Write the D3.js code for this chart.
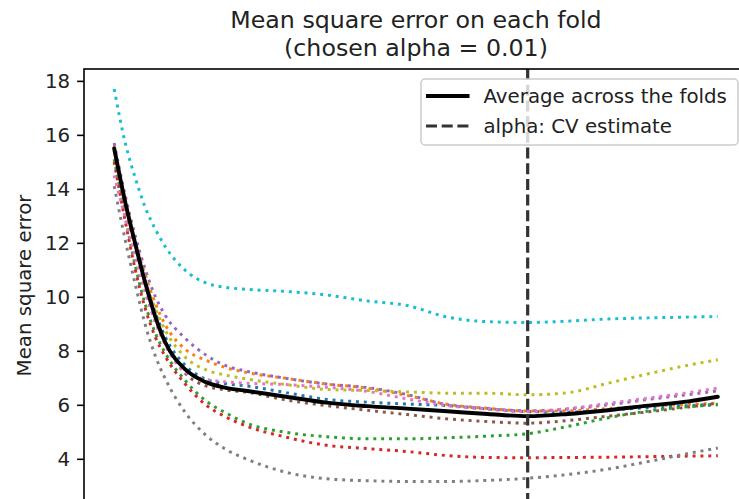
<!DOCTYPE html>
<html>
<head>
<meta charset="utf-8">
<script src="https://cdn.jsdelivr.net/npm/d3@7"></script>
<style>
  html, body { margin: 0; padding: 0; background: #fff; overflow: hidden; }
</style>
</head>
<body>
<div id="chart"></div>
<script>
// -log10(alpha) at the sampled points of the path
const negLogAlphas = [-0.055, 0, 0.05, 0.1, 0.15, 0.2, 0.3, 0.4, 0.5, 0.6, 0.8, 1.0, 1.2, 1.4, 1.6, 1.8, 2.0, 2.2, 2.4, 2.6, 2.8, 2.945];

// mean square error on each of the 10 folds
const fold1 = [15.5, 13.5, 11.95, 10.55, 9.4, 8.5, 7.45, 6.95, 6.78, 6.7, 6.45, 6.2, 6.1, 6.03, 5.97, 5.85, 5.75, 5.73, 5.8, 5.9, 5.97, 6.02];
const fold2 = [15.6, 13.6, 12.05, 10.8, 9.75, 8.95, 8.05, 7.65, 7.38, 7.2, 6.98, 6.77, 6.62, 6.35, 6.02, 5.87, 5.77, 5.78, 5.86, 5.95, 6.02, 6.06];
const fold3 = [15.1, 12.95, 11.15, 9.7, 8.65, 7.9, 6.88, 6.15, 5.7, 5.33, 4.98, 4.82, 4.74, 4.74, 4.78, 4.84, 4.93, 5.2, 5.52, 5.77, 5.93, 6.0];
const fold4 = [15.0, 12.8, 11.0, 9.55, 8.5, 7.78, 6.75, 6.0, 5.55, 5.22, 4.8, 4.5, 4.38, 4.27, 4.12, 4.05, 4.04, 4.05, 4.06, 4.08, 4.1, 4.11];
const fold5 = [15.7, 13.75, 12.25, 11.0, 10.0, 9.3, 8.45, 7.85, 7.45, 7.25, 6.98, 6.77, 6.64, 6.38, 6.0, 5.86, 5.78, 5.84, 6.0, 6.2, 6.38, 6.52];
const fold6 = [15.4, 13.3, 11.7, 10.3, 9.15, 8.25, 7.15, 6.7, 6.55, 6.47, 6.18, 5.97, 5.8, 5.64, 5.48, 5.38, 5.32, 5.42, 5.58, 5.74, 5.92, 6.06];
const fold7 = [14.5, 12.9, 11.45, 10.15, 9.05, 8.2, 7.2, 6.95, 6.85, 6.8, 6.75, 6.65, 6.5, 6.22, 5.97, 5.84, 5.74, 5.86, 6.05, 6.25, 6.45, 6.62];
const fold8 = [14.1, 12.1, 10.45, 8.95, 7.8, 6.95, 5.7, 4.88, 4.35, 4.0, 3.5, 3.26, 3.19, 3.16, 3.16, 3.2, 3.28, 3.42, 3.62, 3.9, 4.2, 4.4];
const fold9 = [15.4, 13.4, 11.9, 10.6, 9.55, 8.75, 7.75, 7.3, 7.1, 6.96, 6.75, 6.57, 6.53, 6.48, 6.43, 6.43, 6.37, 6.45, 6.8, 7.15, 7.47, 7.67];
const fold10 = [17.7, 15.7, 14.4, 13.3, 12.5, 11.85, 10.97, 10.52, 10.35, 10.28, 10.2, 10.07, 9.85, 9.68, 9.25, 9.08, 9.05, 9.1, 9.18, 9.22, 9.25, 9.27];

// average across the folds
const averageMse = [15.5, 13.5, 11.95, 10.5, 9.25, 8.3, 7.3, 6.84, 6.63, 6.52, 6.3, 6.08, 5.95, 5.86, 5.76, 5.66, 5.58, 5.66, 5.8, 5.97, 6.13, 6.3];

const chosenAlpha = 0.01;
const yTicks = [4, 6, 8, 10, 12, 14, 16, 18];
const legendLabels = ['Average across the folds', 'alpha: CV estimate'];

const folds = [fold1, fold2, fold3, fold4, fold5, fold6, fold7, fold8, fold9, fold10];
const foldColors = ['#1f77b4', '#ff7f0e', '#2ca02c', '#d62728', '#9467bd',
                    '#8c564b', '#e377c2', '#7f7f7f', '#bcbd22', '#17becf'];

const width = 739;
const height = 499;
const margin = { top: 69, left: 84, right: 748, bottom: 502 };
const font = 'DejaVu Sans, sans-serif';
const fs = 19.8;

const svg = d3.select('#chart')
    .append('svg')
    .attr('width', width)
    .attr('height', height);

// x: -log10(alpha), 5% margins like matplotlib
const xMin = d3.min(negLogAlphas), xMax = d3.max(negLogAlphas);
const xPad = (xMax - xMin) * 0.05;
const x = d3.scaleLinear()
    .domain([xMin - xPad, xMax + xPad])
    .range([margin.left, margin.right]);

const y = d3.scaleLinear()
    .domain([2.4, 18.44])
    .range([margin.bottom, margin.top]);

svg.append('clipPath')
    .attr('id', 'plot-clip')
    .append('rect')
    .attr('x', margin.left)
    .attr('y', margin.top)
    .attr('width', margin.right - margin.left)
    .attr('height', margin.bottom - margin.top);

const plot = svg.append('g').attr('clip-path', 'url(#plot-clip)');

const line = d3.line()
    .x((d, i) => x(negLogAlphas[i]))
    .y(d => y(d))
    .curve(d3.curveMonotoneX);

// dotted fold curves
folds.forEach((fold, i) => {
    plot.append('path')
        .attr('d', line(fold))
        .attr('fill', 'none')
        .attr('stroke', foldColors[i])
        .attr('stroke-width', 2.96)
        .attr('stroke-dasharray', '2.96 4.88');
});

// average
plot.append('path')
    .attr('d', line(averageMse))
    .attr('fill', 'none')
    .attr('stroke', '#000')
    .attr('stroke-width', 3.9)
    .attr('stroke-linejoin', 'round')
    .attr('stroke-linecap', 'round');

// chosen alpha
const xAlpha = x(-Math.log10(chosenAlpha));
plot.append('line')
    .attr('x1', xAlpha)
    .attr('x2', xAlpha)
    .attr('y1', margin.top)
    .attr('y2', margin.bottom)
    .attr('stroke', '#333')
    .attr('stroke-width', 3.2)
    .attr('stroke-dasharray', '11 4.7');

// spines
svg.append('rect')
    .attr('x', margin.left)
    .attr('y', margin.top)
    .attr('width', margin.right - margin.left)
    .attr('height', margin.bottom - margin.top)
    .attr('fill', 'none')
    .attr('stroke', '#000')
    .attr('stroke-width', 1.6);

// y axis
const yAxis = svg.append('g')
    .attr('transform', `translate(${margin.left},0)`)
    .call(d3.axisLeft(y).tickValues(yTicks).tickSize(6.9).tickPadding(7));
yAxis.select('.domain').remove();
yAxis.selectAll('.tick line').attr('stroke', '#000').attr('stroke-width', 1.6);
yAxis.selectAll('.tick text')
    .attr('font-family', font)
    .attr('font-size', fs)
    .attr('fill', '#222');

svg.append('text')
    .attr('transform', `translate(31,${(margin.top + margin.bottom) / 2}) rotate(-90)`)
    .attr('text-anchor', 'middle')
    .attr('font-family', font)
    .attr('font-size', fs)
    .attr('fill', '#222')
    .text('Mean square error');

// title
const cx = (margin.left + margin.right) / 2;
svg.append('text')
    .attr('x', cx).attr('y', 28)
    .attr('text-anchor', 'middle')
    .attr('font-family', font)
    .attr('font-size', 23.7)
    .attr('fill', '#222')
    .text('Mean square error on each fold');
svg.append('text')
    .attr('x', cx).attr('y', 56)
    .attr('text-anchor', 'middle')
    .attr('font-family', font)
    .attr('font-size', 23.7)
    .attr('fill', '#222')
    .text(`(chosen alpha = ${chosenAlpha})`);

// legend
const legend = svg.append('g').attr('transform', 'translate(421,79)');
legend.append('rect')
    .attr('width', 317)
    .attr('height', 66)
    .attr('rx', 4)
    .attr('fill', '#fff')
    .attr('fill-opacity', 0.8)
    .attr('stroke', '#ccc')
    .attr('stroke-width', 1.5);

const legendStyles = [
    { stroke: '#000', width: 3.9, dash: null },
    { stroke: '#333', width: 3.2, dash: '11 4.7' }
];
legendLabels.forEach((label, i) => {
    const ly = 17 + i * 30;
    legend.append('line')
        .attr('x1', 5).attr('x2', 48.5)
        .attr('y1', ly).attr('y2', ly)
        .attr('stroke', legendStyles[i].stroke)
        .attr('stroke-width', legendStyles[i].width)
        .attr('stroke-dasharray', legendStyles[i].dash);
    legend.append('text')
        .attr('x', 62.5)
        .attr('y', ly + 7)
        .attr('font-family', font)
        .attr('font-size', fs)
        .attr('fill', '#222')
        .text(label);
});
</script>
</body>
</html>
